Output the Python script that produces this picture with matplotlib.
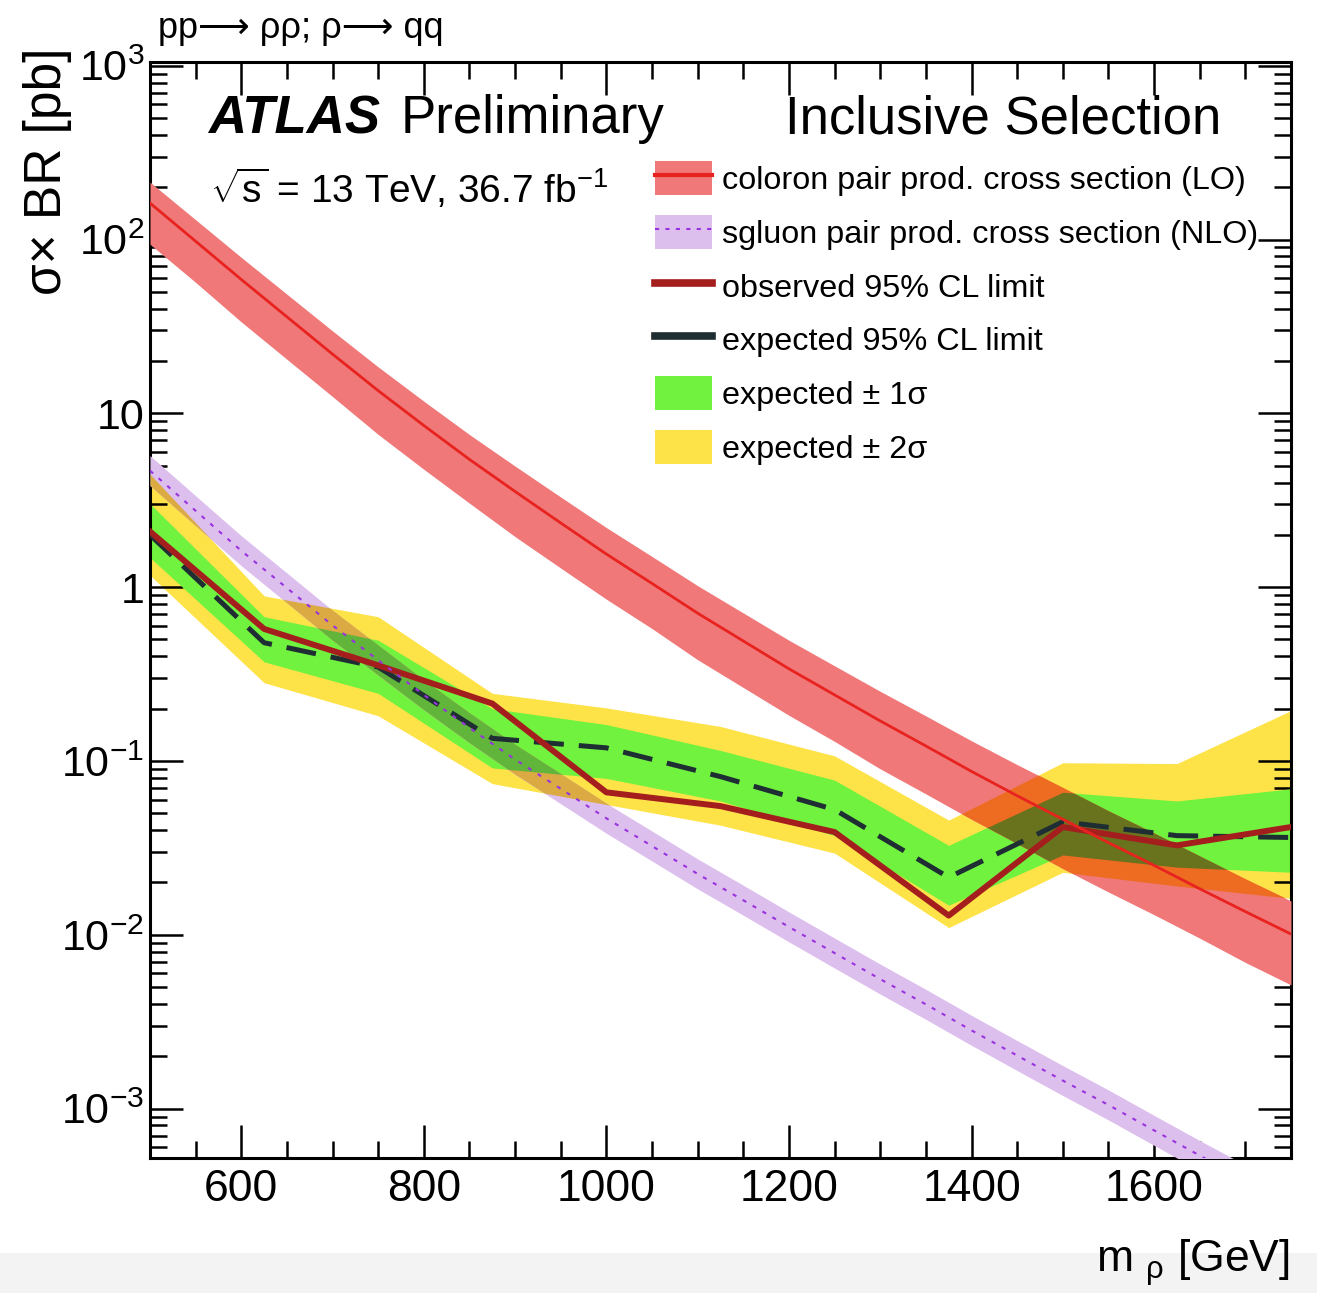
import numpy as np
import matplotlib
matplotlib.use("Agg")
import matplotlib.pyplot as plt
from matplotlib.patches import Patch, Rectangle
from matplotlib.lines import Line2D
from matplotlib.colors import to_rgb
from matplotlib.ticker import FixedLocator, FixedFormatter, MultipleLocator, LogLocator, NullFormatter

plt.rcParams['font.family'] = ['Liberation Sans', 'DejaVu Sans']
plt.rcParams['mathtext.fontset'] = 'custom'
plt.rcParams['mathtext.rm'] = 'Liberation Sans'
plt.rcParams['mathtext.it'] = 'Liberation Sans:italic'
plt.rcParams['mathtext.bf'] = 'Liberation Sans:bold'
plt.rcParams['mathtext.sf'] = 'Liberation Sans'

# ---------------- data ----------------
mass_theory = [500, 550, 600, 650, 700, 750, 800, 850, 900, 950, 1000, 1050, 1100,
               1150, 1200, 1250, 1300, 1350, 1400, 1450, 1500, 1550, 1600, 1650, 1700, 1750]
coloron_xsec = [162, 97.7, 58.9, 35.9, 21.9, 13.5, 8.51, 5.43, 3.55, 2.34, 1.55, 1.05, 0.708,
                0.490, 0.339, 0.240, 0.170, 0.122, 0.0871, 0.0631, 0.0462, 0.0339, 0.0251,
                0.0184, 0.0136, 0.0101]
coloron_rel_up = [0.32, 0.33, 0.34, 0.35, 0.36, 0.37, 0.38, 0.39, 0.40, 0.41, 0.42, 0.43, 0.44,
                  0.45, 0.46, 0.47, 0.48, 0.49, 0.50, 0.51, 0.52, 0.52, 0.53, 0.54, 0.54, 0.55]
coloron_rel_dn = [0.42, 0.42, 0.43, 0.43, 0.43, 0.44, 0.44, 0.44, 0.45, 0.45, 0.45, 0.45, 0.46,
                  0.46, 0.46, 0.46, 0.47, 0.47, 0.47, 0.47, 0.48, 0.48, 0.48, 0.48, 0.49, 0.49]
sgluon_xsec = [4.68, 2.75, 1.62, 0.989, 0.603, 0.380, 0.240, 0.155, 0.102, 0.0692, 0.0468,
               0.0324, 0.0224, 0.0158, 0.0111, 0.00785, 0.00556, 0.00398, 0.00282, 0.00202,
               0.00145, 0.00105, 0.000750, 0.000537, 0.000389, 0.000282]
sgluon_rel_up = 0.22
sgluon_rel_dn = 0.18

mass_limit = [500, 625, 750, 875, 1000, 1125, 1250, 1375, 1500, 1625, 1750]
obs_limit = [2.09, 0.575, 0.355, 0.214, 0.066, 0.055, 0.039, 0.0129, 0.0417, 0.0327, 0.0417]
exp_limit = [2.0, 0.479, 0.347, 0.135, 0.119, 0.0813, 0.0525, 0.0214, 0.0447, 0.0372, 0.0363]
exp_1s_hi = [3.02, 0.676, 0.495, 0.20, 0.162, 0.115, 0.0776, 0.0327, 0.0661, 0.0589, 0.0692]
exp_1s_lo = [1.48, 0.372, 0.245, 0.0912, 0.0794, 0.0589, 0.0372, 0.0148, 0.0288, 0.0245, 0.0229]
exp_2s_hi = [4.47, 0.891, 0.676, 0.245, 0.202, 0.158, 0.107, 0.0457, 0.0977, 0.0966, 0.195]
exp_2s_lo = [1.17, 0.282, 0.182, 0.0741, 0.0562, 0.0427, 0.0295, 0.011, 0.0229, 0.0191, 0.0162]

y_tick_values = [1e-3, 1e-2, 1e-1, 1, 10, 1e2, 1e3]
y_tick_labels = [r'$10^{-3}$', r'$10^{-2}$', r'$10^{-1}$', '1', '10', r'$10^{2}$', r'$10^{3}$']

legend_labels = ['coloron pair prod. cross section (LO)',
                 'sgluon pair prod. cross section (NLO)',
                 'observed 95% CL limit',
                 'expected 95% CL limit',
                 'expected \u00b1 1\u03c3',
                 'expected \u00b1 2\u03c3']

# ---------------- style ----------------
YELLOW = '#FDE348'
GREEN = '#70F23E'
RED_BAND = '#F07878'
RED_LINE = '#E8231F'
PURPLE_BAND = '#DDBFEE'
PURPLE_LINE = '#9933DD'
OBS_COLOR = '#A51E1E'
EXP_COLOR = '#1F2E33'


def mult(c1, c2):
    return tuple(np.array(to_rgb(c1)) * np.array(to_rgb(c2)))


W, H = 1317, 1293
fig = plt.figure(figsize=(W / 100, H / 100), dpi=100)
fig.patches.append(Rectangle((0, 0), 1, 40 / H, transform=fig.transFigure,
                             facecolor='#f3f3f3', edgecolor='none', zorder=-10))
ax = fig.add_axes([150 / W, 1 - 1158 / H, (1291 - 150) / W, (1158 - 62) / H])
ax.set_yscale('log')

mt = np.array(mass_theory)
col = np.array(coloron_xsec)
col_hi = col * (1 + np.array(coloron_rel_up))
col_lo = col * (1 - np.array(coloron_rel_dn))
sg = np.array(sgluon_xsec)
sg_hi = sg * (1 + sgluon_rel_up)
sg_lo = sg * (1 - sgluon_rel_dn)

# expected bands
ax.fill_between(mass_limit, exp_2s_lo, exp_2s_hi, color=YELLOW, lw=0, zorder=1)
ax.fill_between(mass_limit, exp_1s_lo, exp_1s_hi, color=GREEN, lw=0, zorder=2)

# theory bands with multiply-like overlap
for band_lo, band_hi, bcol, z in [(col_lo, col_hi, RED_BAND, 3), (sg_lo, sg_hi, PURPLE_BAND, 3)]:
    poly = ax.fill_between(mt, band_lo, band_hi, color=bcol, lw=0, zorder=z)
    clip = poly.get_paths()[0]
    c1 = ax.fill_between(mass_limit, exp_2s_lo, exp_2s_hi, color=mult(YELLOW, bcol), lw=0, zorder=z + 0.1)
    c1.set_clip_path(clip, ax.transData)
    c2 = ax.fill_between(mass_limit, exp_1s_lo, exp_1s_hi, color=mult(GREEN, bcol), lw=0, zorder=z + 0.2)
    c2.set_clip_path(clip, ax.transData)

ax.plot(mass_limit, exp_limit, color=EXP_COLOR, lw=3.6, dashes=(6, 3), zorder=5)
ax.plot(mass_limit, obs_limit, color=OBS_COLOR, lw=4.3, zorder=6)
ax.plot(mt, col, color=RED_LINE, lw=2.0, zorder=7)
ax.plot(mt, sg, color=PURPLE_LINE, lw=1.5, dashes=(2, 3.5), zorder=7)

ax.set_xlim(500, 1750)
ax.set_ylim(5.2e-4, 1.05e3)

ax.xaxis.set_major_locator(MultipleLocator(200))
ax.xaxis.set_minor_locator(MultipleLocator(50))
ax.yaxis.set_major_locator(FixedLocator(y_tick_values))
ax.yaxis.set_major_formatter(FixedFormatter(y_tick_labels))
ax.yaxis.set_minor_locator(LogLocator(base=10, subs=np.arange(2, 10), numticks=30))
ax.yaxis.set_minor_formatter(NullFormatter())
ax.tick_params(which='both', direction='in', top=True, right=True, width=1.8)
ax.tick_params(which='major', length=24)
ax.tick_params(which='minor', length=12)
ax.tick_params(axis='x', labelsize=32, pad=8)
ax.tick_params(axis='y', labelsize=31, pad=4)
for s in ax.spines.values():
    s.set_linewidth(2.2)

# texts
fig.text(158 / W, 1 - 38 / H, 'pp\u27f6 \u03c1\u03c1; \u03c1\u27f6 qq', fontsize=26, va='baseline', ha='left')
fig.text(208 / W, 1 - 133 / H, 'ATLAS', fontsize=38, fontweight='bold', fontstyle='italic',
         va='baseline', ha='left')
fig.text(401 / W, 1 - 133 / H, 'Preliminary', fontsize=38, va='baseline', ha='left')
fig.text(785 / W, 1 - 133 / H, 'Inclusive Selection', fontsize=38, va='baseline', ha='left')
fig.text(210 / W, 1 - 203 / H, r'$\sqrt{\mathrm{s}}$ = 13 TeV, 36.7 fb$^{-1}$', fontsize=28,
         va='baseline', ha='left')
fig.text(48 / W, 1 - 48 / H, '\u03c3\u00d7 BR [pb]', fontsize=37, rotation=90, ha='center', va='top')
fig.text(1290 / W, 1 - 1272 / H, r'm $_{\mathrm{\rho}}$ [GeV]', fontsize=32, ha='right', va='baseline')

# legend
handles = [
    (Patch(facecolor=RED_BAND, edgecolor='none'), Line2D([], [], color=RED_LINE, lw=3)),
    (Patch(facecolor=PURPLE_BAND, edgecolor='none'), Line2D([], [], color=PURPLE_LINE, lw=1.5, dashes=(2, 3))),
    Line2D([], [], color=OBS_COLOR, lw=5.5),
    Line2D([], [], color=EXP_COLOR, lw=5.5),
    Patch(facecolor=GREEN, edgecolor='none'),
    Patch(facecolor=YELLOW, edgecolor='none'),
]
leg = ax.legend(handles, legend_labels, loc='upper left', bbox_to_anchor=(655 / W, 1 - 161 / H),
                bbox_transform=fig.transFigure, frameon=False, fontsize=23.3, borderpad=0,
                borderaxespad=0, handlelength=1.75, handleheight=1.25, handletextpad=0.31,
                labelspacing=0.58)
leg.set_zorder(20)

fig.savefig('out.png', dpi=100)
